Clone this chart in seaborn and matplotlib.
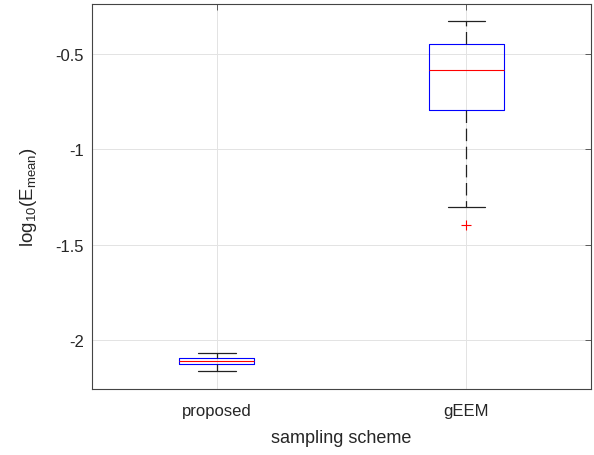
import pandas as pd
import matplotlib
matplotlib.use('Agg')
import matplotlib.pyplot as plt
import seaborn as sns

# values (log10 of mean error)
schemes = ['proposed', 'gEEM']
proposed_vals = [-2.164, -2.126, -2.112, -2.096, -2.068]
geem_vals = [-1.397, -1.302, -0.791, -0.70, -0.582, -0.52, -0.447, -0.40, -0.327]

df = pd.DataFrame({
    'scheme': ['proposed'] * len(proposed_vals) + ['gEEM'] * len(geem_vals),
    'value': proposed_vals + geem_vals,
})

sns.set_style('white')
plt.rcParams['font.family'] = ['Liberation Sans', 'DejaVu Sans']
plt.rcParams['mathtext.default'] = 'regular'

fig, ax = plt.subplots(figsize=(5.94, 4.56), dpi=100)
fig.subplots_adjust(left=0.155, right=0.995, top=0.99, bottom=0.145)

sns.boxplot(data=df, x='scheme', y='value', order=schemes, ax=ax,
            width=0.3, fill=False, whis=1.5,
            boxprops=dict(color='blue', linewidth=0.8),
            medianprops=dict(color='red', linewidth=0.8, zorder=5),
            whiskerprops=dict(color='#222222', linestyle=(0, (10, 4.5)), linewidth=0.9),
            capprops=dict(color='#222222', linewidth=0.9),
            flierprops=dict(marker='+', markeredgecolor='red', markersize=7,
                            markeredgewidth=0.8))

ax.set_xlim(-0.5, 1.5)
ax.set_ylim(-2.257, -0.235)
ax.set_yticks([-2, -1.5, -1, -0.5])
ax.set_yticklabels(['-2', '-1.5', '-1', '-0.5'])

ax.set_axisbelow(True)
ax.grid(True, color='#e3e3e3', linewidth=0.7)
for s in ax.spines.values():
    s.set_color('#444444')
    s.set_linewidth(0.8)
ax.tick_params(direction='in', length=4, width=0.6, color='#444444',
               top=True, right=True, labelsize=12, labelcolor='#262626', pad=6)
ax.tick_params(axis='x', pad=10)

ax.set_xlabel('sampling scheme', fontsize=13, color='#262626', labelpad=8)
ax.set_ylabel(r'log$_{10}$(E$_{mean}$)', fontsize=13.5, color='#262626', labelpad=12)

fig.savefig('out.png', dpi=100)
